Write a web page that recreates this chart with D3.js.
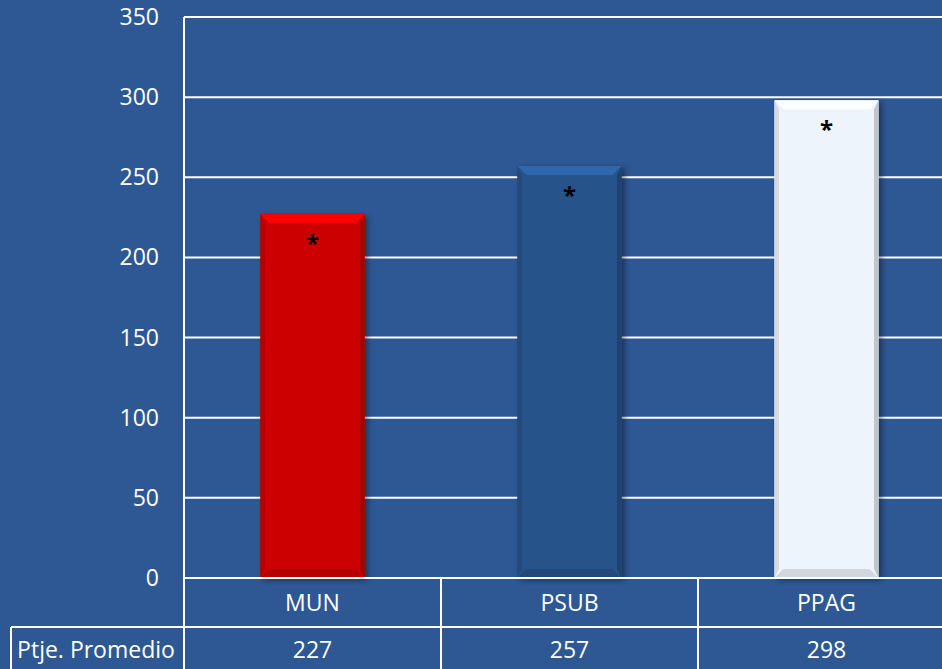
<!DOCTYPE html>
<html lang="es">
<head>
<meta charset="utf-8">
<title>Ptje. Promedio</title>
<script src="https://cdn.jsdelivr.net/npm/d3@7"></script>
<style>
  html, body { margin: 0; padding: 0; background: #2e5894; }
  svg { display: block; }
  text { font-family: "Open Sans", "Noto Sans", sans-serif; fill: #fff; }
</style>
</head>
<body>
<script>
// datos
var categorias = ["MUN", "PSUB", "PPAG"];
var valores = [227, 257, 298];
var colores = ["#cc0000", "#27528a", "#eef4fc"];
var marcas = ["*", "*", "*"];
var ticks = [0, 50, 100, 150, 200, 250, 300, 350];
var filaTitulo = "Ptje. Promedio";

var width = 942, height = 669;
var plotLeft = 184, plotTop = 17, plotBottom = 578, plotRight = 955;
var rowH = 49;

var svg = d3.select("body").append("svg")
    .attr("width", width)
    .attr("height", height);

var defs = svg.append("defs");
var shadow = defs.append("filter").attr("id", "sombra")
    .attr("x", "-20%").attr("y", "-10%").attr("width", "140%").attr("height", "125%");
shadow.append("feDropShadow")
    .attr("dx", 3).attr("dy", 2).attr("stdDeviation", 3)
    .attr("flood-color", "#000").attr("flood-opacity", 0.45);

// escalas
var x = d3.scaleBand().domain(categorias).range([plotLeft, plotRight]).paddingInner(0).paddingOuter(0);
var y = d3.scaleLinear().domain([0, 350]).range([plotBottom, plotTop]);
var barW = x.bandwidth() * 0.405;

// lineas de cuadricula
svg.append("g")
    .selectAll("line")
    .data(ticks.filter(function (d) { return d > 0; }))
    .enter().append("line")
    .attr("x1", plotLeft).attr("x2", plotRight)
    .attr("y1", function (d) { return y(d); })
    .attr("y2", function (d) { return y(d); })
    .attr("stroke", "#fff").attr("stroke-width", 2);

// etiquetas eje y
svg.append("g")
    .selectAll("text")
    .data(ticks)
    .enter().append("text")
    .attr("x", 159)
    .attr("y", function (d) { return y(d) + 8; })
    .attr("text-anchor", "end")
    .attr("font-size", 23)
    .text(function (d) { return d; });

// barras
var barras = svg.append("g")
    .selectAll("g")
    .data(valores)
    .enter().append("g");

barras.each(function (v, i) {
    var g = d3.select(this);
    var x0 = x(categorias[i]) + (x.bandwidth() - barW) / 2;
    var y0 = y(v), h = y(0) - y(v);
    var base = d3.color(colores[i]);
    var bev = 9;

    g.append("rect")
        .attr("x", x0).attr("y", y0)
        .attr("width", barW).attr("height", h)
        .attr("fill", colores[i])
        .attr("filter", "url(#sombra)");

    // bisel superior
    g.append("path")
        .attr("d", "M" + x0 + "," + y0 + "h" + barW + "l" + (-bev) + "," + bev + "h" + (-(barW - 2 * bev)) + "z")
        .attr("fill", base.brighter(0.6));
    // bisel inferior
    g.append("path")
        .attr("d", "M" + x0 + "," + (y0 + h) + "h" + barW + "l" + (-bev) + "," + (-bev) + "h" + (-(barW - 2 * bev)) + "z")
        .attr("fill", base.darker(0.35));
    // biseles laterales
    g.append("path")
        .attr("d", "M" + x0 + "," + y0 + "l" + bev / 2 + "," + bev + "v" + (h - 2 * bev) + "l" + (-bev / 2) + "," + bev + "z")
        .attr("fill", base.darker(0.3));
    g.append("path")
        .attr("d", "M" + (x0 + barW) + "," + y0 + "l" + (-bev / 2) + "," + bev + "v" + (h - 2 * bev) + "l" + bev / 2 + "," + bev + "z")
        .attr("fill", base.darker(0.6));

    g.append("text")
        .attr("x", x0 + barW / 2)
        .attr("y", y0 + 38)
        .attr("text-anchor", "middle")
        .attr("font-size", 24)
        .attr("font-weight", "bold")
        .style("fill", "#000")
        .text(marcas[i]);
});

// tabla de datos
var tabla = svg.append("g").attr("stroke", "#fff").attr("stroke-width", 2);
tabla.append("line").attr("x1", plotLeft).attr("x2", plotRight).attr("y1", plotBottom).attr("y2", plotBottom);
tabla.append("line").attr("x1", 11).attr("x2", plotRight).attr("y1", plotBottom + rowH).attr("y2", plotBottom + rowH);
tabla.append("line").attr("x1", plotLeft).attr("x2", plotLeft).attr("y1", plotTop).attr("y2", height);
tabla.append("line").attr("x1", 11).attr("x2", 11).attr("y1", plotBottom + rowH).attr("y2", height);
tabla.append("line").attr("x1", plotLeft).attr("x2", plotRight).attr("y1", plotTop).attr("y2", plotTop);
tabla.selectAll(".sep")
    .data(categorias.slice(1))
    .enter().append("line")
    .attr("x1", function (d) { return x(d); })
    .attr("x2", function (d) { return x(d); })
    .attr("y1", plotBottom).attr("y2", height);

svg.append("g")
    .selectAll("text")
    .data(categorias)
    .enter().append("text")
    .attr("x", function (d) { return x(d) + x.bandwidth() / 2; })
    .attr("y", plotBottom + 33)
    .attr("text-anchor", "middle")
    .attr("font-size", 23)
    .text(function (d) { return d; });

svg.append("g")
    .selectAll("text")
    .data(valores)
    .enter().append("text")
    .attr("x", function (d, i) { return x(categorias[i]) + x.bandwidth() / 2; })
    .attr("y", plotBottom + rowH + 31)
    .attr("text-anchor", "middle")
    .attr("font-size", 23)
    .text(function (d) { return d; });

svg.append("text")
    .attr("x", 96)
    .attr("y", plotBottom + rowH + 31)
    .attr("text-anchor", "middle")
    .attr("font-size", 23)
    .text(filaTitulo);
</script>
</body>
</html>
